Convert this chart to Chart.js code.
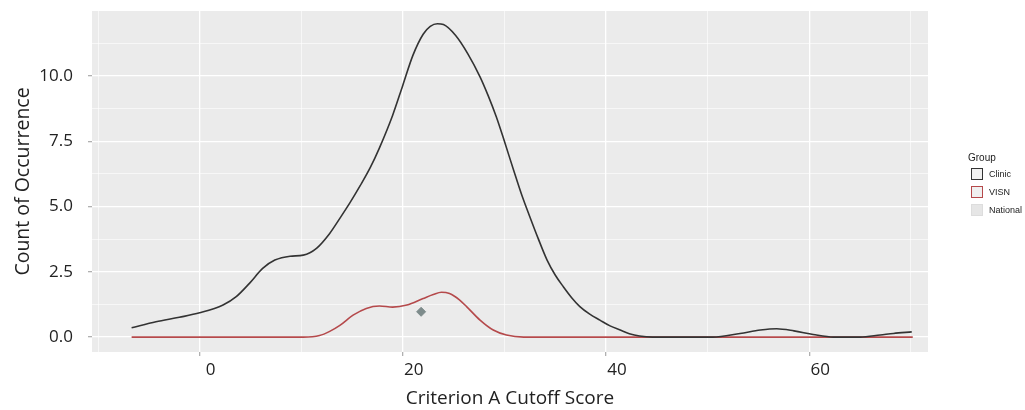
<!doctype html>
<html lang="en">
  <head>
    <meta charset="UTF-8">
    <title>Criterion A Cutoff Score</title>
    <style>
      body { margin: 0; background: #fff; }
      .wrap { position: relative; width: 1025px; height: 410px; }
      .legend { position: absolute; left: 968px; top: 152px; font-family: 'Liberation Sans', Arial, sans-serif; color: #222; }
      .legend .ttl { font-size: 10px; margin-bottom: 4px; }
      .legend .item { display: flex; align-items: center; height: 13px; margin-bottom: 5px; font-size: 9px; }
      .legend .box { width: 10px; height: 10px; border: 1.5px solid; margin: 0 6px 0 3px; }
    </style>
  </head>
  <body>
    <div class="wrap">
      <canvas id="myChart" width="1025" height="410"></canvas>
      <div class="legend" id="legend"><div class="ttl">Group</div></div>
    </div>
    <script src="https://cdn.jsdelivr.net/npm/chart.js@4.4.1/dist/chart.umd.min.js"></script>
    <script>
    // Data-----
    const clinicX = [-6.7, -4.3, -2, 0, 2.3, 3.6, 4.9, 6.2, 7.4, 8.9, 10.2, 11.5, 12.8, 13.8, 14.8, 15.8, 16.8, 17.7, 19.0, 20.0, 21.0, 22.0, 22.7, 23.4, 24.0, 25.2, 26.4, 27.6, 28.4, 29.2, 30.0, 30.9, 31.7, 32.5, 33.3, 34.2, 35.0, 35.8, 36.6, 37.4, 38.4, 39.4, 40.4, 41.4, 42.3, 43.3, 44.6, 50.5, 53.2, 55.2, 56.8, 58.5, 60.4, 62.4, 65.0, 67.0, 68.3, 70.1];
    const clinicY = [0.36, 0.59, 0.76, 0.93, 1.23, 1.55, 2.06, 2.63, 2.95, 3.10, 3.14, 3.40, 3.97, 4.55, 5.15, 5.80, 6.50, 7.25, 8.50, 9.65, 10.80, 11.60, 11.90, 12.00, 11.97, 11.55, 10.85, 9.97, 9.25, 8.44, 7.50, 6.40, 5.45, 4.61, 3.80, 2.95, 2.38, 1.93, 1.52, 1.18, 0.88, 0.65, 0.43, 0.27, 0.13, 0.04, 0, 0, 0.14, 0.27, 0.32, 0.24, 0.10, 0, 0, 0.08, 0.14, 0.2];
    const visnX = [-6.7, 10.2, 11.8, 12.8, 13.8, 15.1, 16.4, 17.7, 19.0, 20.4, 22.0, 23.0, 23.8, 24.6, 25.6, 26.3, 27.6, 28.9, 30.2, 31.9, 70.2];
    const visnY = [0, 0, 0.06, 0.22, 0.45, 0.84, 1.10, 1.19, 1.15, 1.23, 1.48, 1.63, 1.72, 1.67, 1.42, 1.16, 0.65, 0.27, 0.08, 0, 0];
    const nationalX = [21.8];
    const nationalY = [0.97];
    const groups = ['Clinic', 'VISN', 'National'];
    const xTicks = [-10, 0, 10, 20, 30, 40, 50, 60, 70];
    const yTicks = [0, 1.25, 2.5, 3.75, 5, 6.25, 7.5, 8.75, 10, 11.25];
    // Data-----

    const lineColors = ['#333333', '#b5494b', '#dddddd'];
    const boxFills = ['#f0f0f0', '#f0f0f0', '#e6e6e6'];

    const pts = (xs, ys) => xs.map((x, i) => ({x: x, y: ys[i]}));

    // grey panel behind the plot
    const panelBg = {
        id: 'panelBg',
        beforeDraw(chart) {
            const {ctx, chartArea: a} = chart;
            ctx.save();
            ctx.fillStyle = '#ebebeb';
            ctx.fillRect(a.left, a.top, a.width, a.height);
            ctx.restore();
        }
    };

    const isMajorX = (v) => v % 20 === 0;
    const isMajorY = (v) => v % 2.5 === 0;
    const tickFont = {family: 'Open Sans', size: 17};

    const config = {
        type: 'line',
        data: {
            datasets: [{
                label: groups[0],
                borderColor: lineColors[0],
                borderWidth: 1.6,
                pointRadius: 0,
                cubicInterpolationMode: 'monotone',
                data: pts(clinicX, clinicY)
            },
            {
                label: groups[1],
                borderColor: lineColors[1],
                borderWidth: 1.6,
                pointRadius: 0,
                cubicInterpolationMode: 'monotone',
                data: pts(visnX, visnY)
            },
            {
                label: groups[2],
                showLine: false,
                pointStyle: 'rectRot',
                pointRadius: 4.5,
                pointBackgroundColor: '#7d8b8b',
                pointBorderColor: '#7d8b8b',
                data: pts(nationalX, nationalY)
            }]
        },
        options: {
            responsive: false,
            animation: false,
            layout: {
                padding: {left: 12, right: 97, top: 11, bottom: 0}
            },
            plugins: {
                tooltip: {enabled: false},
                legend: {display: false}
            },
            scales: {
                x: {
                    type: 'linear',
                    min: -10.6,
                    max: 71.7,
                    afterBuildTicks: (axis) => { axis.ticks = xTicks.map(v => ({value: v})); },
                    afterFit: (axis) => { axis.height = 58; axis.paddingLeft = 0; axis.paddingRight = 0; },
                    border: {display: false},
                    grid: {
                        color: '#ffffff',
                        lineWidth: (ctx) => isMajorX(ctx.tick.value) ? 1.3 : 0.6,
                        tickColor: (ctx) => isMajorX(ctx.tick.value) ? '#b0b0b0' : 'rgba(0,0,0,0)',
                        tickLength: 4
                    },
                    ticks: {
                        autoSkip: false,
                        maxRotation: 0,
                        padding: 4,
                        labelOffset: 11,
                        color: '#222',
                        font: tickFont,
                        callback: (v) => isMajorX(v) ? String(v) : ''
                    },
                    title: {
                        display: true,
                        text: 'Criterion A Cutoff Score',
                        color: '#222',
                        font: {family: 'Open Sans', size: 19},
                        padding: {top: 4, bottom: 0}
                    }
                },
                y: {
                    type: 'linear',
                    min: -0.57,
                    max: 12.49,
                    afterBuildTicks: (axis) => { axis.ticks = yTicks.map(v => ({value: v})); },
                    afterFit: (axis) => { axis.width = 80; axis.paddingTop = 0; axis.paddingBottom = 0; },
                    border: {display: false},
                    grid: {
                        color: '#ffffff',
                        lineWidth: (ctx) => isMajorY(ctx.tick.value) ? 1.3 : 0.6,
                        tickColor: (ctx) => isMajorY(ctx.tick.value) ? '#b0b0b0' : 'rgba(0,0,0,0)',
                        tickLength: 4
                    },
                    ticks: {
                        autoSkip: false,
                        padding: 15,
                        color: '#222',
                        font: tickFont,
                        callback: (v) => isMajorY(v) ? v.toFixed(1) : ''
                    },
                    title: {
                        display: true,
                        text: 'Count of Occurrence',
                        color: '#222',
                        font: {family: 'Open Sans', size: 19.5},
                        padding: {top: 0, bottom: 4}
                    }
                }
            }
        },
        plugins: [panelBg]
    };

    var myChart = new Chart(document.getElementById('myChart'), config);

    // legend built from the group names
    const legendEl = document.getElementById('legend');
    groups.forEach((g, i) => {
        const item = document.createElement('div');
        item.className = 'item';
        const box = document.createElement('span');
        box.className = 'box';
        box.style.borderColor = lineColors[i];
        box.style.background = boxFills[i];
        item.appendChild(box);
        item.appendChild(document.createTextNode(g));
        legendEl.appendChild(item);
    });
    </script>
  </body>
</html>
